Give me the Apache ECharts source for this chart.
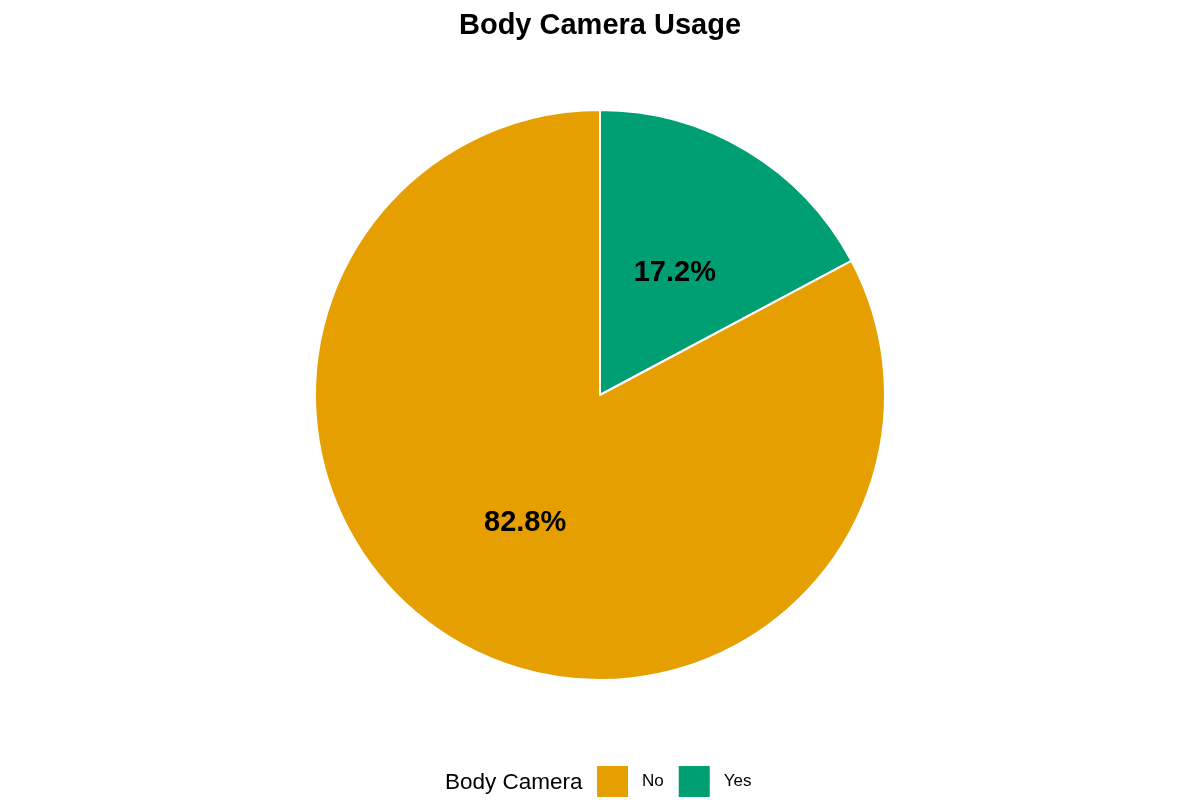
<!DOCTYPE html>
<html>
<head>
<meta charset="utf-8">
<script src="https://cdn.jsdelivr.net/npm/echarts@6/dist/echarts.min.js"></script>
<style>html,body{margin:0;padding:0;background:#fff}#c{width:1200px;height:800px}</style>
</head>
<body>
<div id="c"></div>
<script>
const categories = ['Yes', 'No'];
const values = [17.2, 82.8];
const colors = { 'No': '#E69F00', 'Yes': '#009E73' };
const legendOrder = ['No', 'Yes'];
const titleText = 'Body Camera Usage';
const legendTitle = 'Body Camera';

const FONT = '"Liberation Sans", Arial, sans-serif';
const chart = echarts.init(document.getElementById('c'), null, { renderer: 'canvas' });
chart.setOption({
  backgroundColor: '#ffffff',
  animation: false,
  title: {
    text: titleText, left: 'center', top: 11, padding: 0,
    textStyle: { fontFamily: FONT, fontSize: 29, fontWeight: 'bold', color: '#000' }
  },
  legend: {
    data: legendOrder, orient: 'horizontal', left: 597, top: 766, padding: 0,
    itemWidth: 31, itemHeight: 31, itemGap: 15, icon: 'rect',
    itemStyle: { borderWidth: 0 },
    textStyle: { fontFamily: FONT, fontSize: 17, color: '#000', padding: [4, 0, 0, 9] }
  },
  graphic: [{
    type: 'text', left: 445, top: 771,
    style: { text: legendTitle, font: '22.5px ' + FONT, fill: '#000' }
  }],
  series: [{
    type: 'pie', center: [600, 395], radius: [0, 285], startAngle: 90, clockwise: true,
    itemStyle: { borderColor: '#fff', borderWidth: 2 },
    label: {
      show: true, position: 'inside', offset: [0, 3],
      formatter: p => p.value.toFixed(1) + '%',
      fontFamily: FONT, fontSize: 29, fontWeight: 'bold', color: '#000'
    },
    labelLine: { show: false },
    emphasis: { disabled: true },
    data: categories.map((c, i) => ({ name: c, value: values[i], itemStyle: { color: colors[c] } }))
  }]
});
</script>
</body>
</html>
